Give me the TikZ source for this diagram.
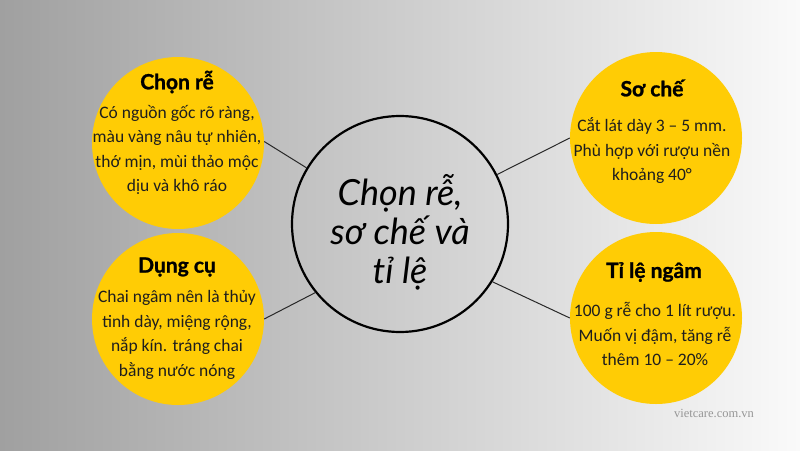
\documentclass[tikz,border=0pt]{standalone}
\usepackage{fontspec}
\setmainfont{Carlito}
\newfontfamily\headfont[BoldFeatures={FakeBold=1.2}]{Lato}
\newfontfamily\centerfont{Lato}
\newfontfamily\markfont{Liberation Serif}
\definecolor{bgleft}{RGB}{160,160,160}
\definecolor{bgright}{RGB}{250,250,250}
\definecolor{ylw}{RGB}{255,204,5}
\definecolor{ink}{RGB}{30,30,30}
\definecolor{lineink}{RGB}{40,40,40}
\definecolor{markgray}{RGB}{150,150,150}
\tikzset{
  bubble/.style={circle, fill=ylw, draw=none, inner sep=0pt, minimum size=172pt},
  hub/.style={circle, draw=black, line width=2.2pt, inner sep=0pt, minimum size=216pt},
  headtext/.style={font=\headfont\bfseries\fontsize{21}{24}\selectfont, text=black, inner sep=0pt},
  bodytext/.style={font=\fontsize{17.5}{24.5}\selectfont, text=ink, align=center, inner sep=0pt},
  conn/.style={draw=lineink, line width=1pt},
}
\begin{document}
\begin{tikzpicture}[x=1pt,y=-1pt]
\shade[left color=bgleft, right color=bgright] (0,0) rectangle (800,450);
\useasboundingbox (0,0) rectangle (800,450);

\node[hub] (c) at (400,224) {};
\node[font=\centerfont\itshape\fontsize{36}{39}\selectfont, align=center, inner sep=0pt, text=black] (ct) at (400,232) {Chọn rễ,\\sơ chế và\\tỉ lệ};

\node[bubble] (tl) at (178,143) {};
\node[bubble] (bl) at (178,319) {};
\node[bubble] (tr) at (656,138) {};
\node[bubble] (br) at (656,318) {};

\node[headtext] (tlh) at (177,82) {Chọn rễ};
\node[bodytext] (tlb) at (177,150) {Có nguồn gốc rõ ràng,\\màu vàng nâu tự nhiên,\\thớ mịn, mùi thảo mộc\\dịu và khô ráo};

\node[headtext] (blh) at (177,267) {Dụng cụ};
\node[bodytext] (blb) at (177,335) {Chai ngâm nên là thủy\\tinh dày, miệng rộng,\\nắp kín. tráng chai\\bằng nước nóng};

\node[headtext] (trh) at (652,88) {Sơ chế};
\node[bodytext] (trb) at (652,151) {Cắt lát dày 3 – 5 mm.\\Phù hợp với rượu nền\\khoảng 40°};

\node[headtext] (brh) at (654,272) {Tỉ lệ ngâm};
\node[bodytext] (brb) at (655,334) {100 g rễ cho 1 lít rượu.\\Muốn vị đậm, tăng rễ\\thêm 10 – 20\%};

\node[font=\markfont\fontsize{12.5}{14}\selectfont, text=markgray, inner sep=0pt] (wm) at (714,413) {vietcare.com.vn};

\draw[conn] (tl.1) -- (c.149.5);
\draw[conn] (bl.0) -- (c.219.5);
\draw[conn] (tr.180) -- (c.27.5);
\draw[conn] (br.180) -- (c.328);
\end{tikzpicture}
\end{document}
